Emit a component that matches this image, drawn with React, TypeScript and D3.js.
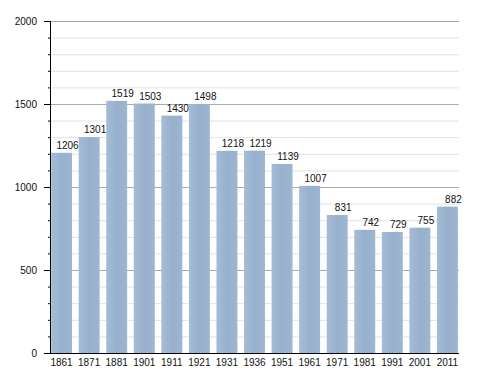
import React, { useEffect, useRef } from "react";
import * as d3 from "d3";

const years = ["1861", "1871", "1881", "1901", "1911", "1921", "1931", "1936", "1951", "1961", "1971", "1981", "1991", "2001", "2011"];
const population = [1206, 1301, 1519, 1503, 1430, 1498, 1218, 1219, 1139, 1007, 831, 742, 729, 755, 882];
const majorTicks = [0, 500, 1000, 1500, 2000];
const minorTicks = d3.range(0, 2001, 100);

const width = 488;
const height = 373;
const left = 50;
const right = 459;
const top = 21;
const bottom = 353;

const App = () => {
  const ref = useRef<SVGSVGElement>(null);

  useEffect(() => {
    const svg = d3.select(ref.current);
    svg.selectAll("*").remove();

    const x = d3.scaleBand().domain(years).range([left, right]).paddingInner(0.24).paddingOuter(0.04);
    const y = d3.scaleLinear().domain([0, 2000]).range([bottom, top]);

    const defs = svg.append("defs");
    const grad = defs.append("linearGradient").attr("id", "barGrad").attr("x1", "0").attr("x2", "1").attr("y1", "0").attr("y2", "0");
    grad.append("stop").attr("offset", "0%").attr("stop-color", "#a6bcd6");
    grad.append("stop").attr("offset", "50%").attr("stop-color", "#97b0cd");
    grad.append("stop").attr("offset", "100%").attr("stop-color", "#9fb5d0");

    // minor grid
    svg.append("g")
      .selectAll("line")
      .data(minorTicks.filter((t) => t % 500 !== 0))
      .join("line")
      .attr("x1", left).attr("x2", right)
      .attr("y1", (d) => y(d) + 0.5).attr("y2", (d) => y(d) + 0.5)
      .attr("stroke", "#e2e2e2");

    // major grid
    svg.append("g")
      .selectAll("line")
      .data(majorTicks.filter((t) => t > 0))
      .join("line")
      .attr("x1", left).attr("x2", right)
      .attr("y1", (d) => Math.round(y(d)) + 0.5).attr("y2", (d) => Math.round(y(d)) + 0.5)
      .attr("stroke", "#ababab");

    // bars
    svg.append("g")
      .selectAll("rect")
      .data(population)
      .join("rect")
      .attr("x", (d, i) => x(years[i])!)
      .attr("width", x.bandwidth())
      .attr("y", (d) => y(d))
      .attr("height", (d) => bottom - y(d))
      .attr("fill", "url(#barGrad)");

    // value labels
    svg.append("g")
      .selectAll("text")
      .data(population)
      .join("text")
      .attr("x", (d, i) => x(years[i])! + x.bandwidth() / 2 + 6)
      .attr("y", (d) => y(d) - 4)
      .attr("text-anchor", "middle")
      .attr("font-family", "Liberation Sans, Arial, sans-serif")
      .attr("font-size", 10)
      .attr("fill", "#111")
      .text((d) => d);

    // y axis
    const yAxis = svg.append("g");
    yAxis.append("line")
      .attr("x1", left + 0.5).attr("x2", left + 0.5)
      .attr("y1", top).attr("y2", bottom + 1)
      .attr("stroke", "#000");
    yAxis.selectAll(".minor")
      .data(minorTicks.filter((t) => t % 500 !== 0))
      .join("line")
      .attr("x1", left - 2).attr("x2", left)
      .attr("y1", (d) => y(d) + 0.5).attr("y2", (d) => y(d) + 0.5)
      .attr("stroke", "#000");
    yAxis.selectAll(".major")
      .data(majorTicks)
      .join("line")
      .attr("x1", left - 6).attr("x2", left)
      .attr("y1", (d) => Math.round(y(d)) + 0.5).attr("y2", (d) => Math.round(y(d)) + 0.5)
      .attr("stroke", "#000");
    yAxis.selectAll("text")
      .data(majorTicks)
      .join("text")
      .attr("x", 37)
      .attr("y", (d) => y(d) + 4)
      .attr("text-anchor", "end")
      .attr("font-family", "Liberation Sans, Arial, sans-serif")
      .attr("font-size", 10)
      .attr("fill", "#111")
      .text((d) => d);

    // x axis
    const xAxis = svg.append("g");
    xAxis.append("line")
      .attr("x1", left).attr("x2", right)
      .attr("y1", bottom + 0.5).attr("y2", bottom + 0.5)
      .attr("stroke", "#000");
    xAxis.selectAll("text")
      .data(years)
      .join("text")
      .attr("x", (d) => x(d)! + x.bandwidth() / 2)
      .attr("y", bottom + 13)
      .attr("text-anchor", "middle")
      .attr("font-family", "Liberation Sans, Arial, sans-serif")
      .attr("font-size", 10)
      .attr("fill", "#111")
      .text((d) => d);
  }, []);

  return (
    <svg
      ref={ref}
      width={width}
      height={height}
      style={{ position: "absolute", left: 0, top: 0, background: "#fff" }}
    />
  );
};

export default App;
